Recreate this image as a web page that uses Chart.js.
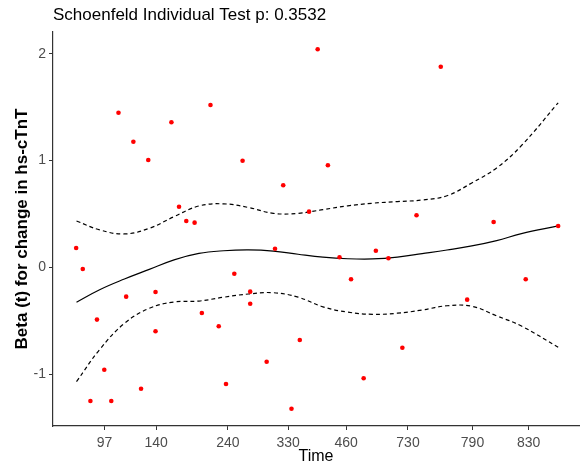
<!DOCTYPE html>
<html>
<head>
<meta charset="utf-8">
<script src="https://cdn.jsdelivr.net/npm/chart.js@4.4.1/dist/chart.umd.min.js"></script>
<style>
  html, body { margin: 0; padding: 0; background: #fff; }
  #wrap { width: 583px; height: 475px; }
</style>
</head>
<body>
<div id="wrap"><canvas id="zph" width="583" height="475"></canvas></div>
<script>
// x axis is the transformed time scale (0..100), labelled with real times
const tickTimes = [97, 140, 240, 330, 460, 730, 790, 830];
const tickPos = [9.81, 19.62, 33.26, 44.72, 55.72, 67.49, 79.75, 90.44];
const yTicks = [-1, 0, 1, 2];

// scaled Schoenfeld residuals
const residX = [4.40, 5.66, 7.11, 8.36, 9.75, 11.08, 12.45, 13.91, 15.28, 16.74,
  18.11, 19.49, 19.49, 22.51, 23.96, 25.34, 26.92, 28.30, 29.94, 31.51,
  32.89, 34.47, 36.04, 37.49, 37.49, 40.62, 42.21, 43.77, 45.34, 46.92,
  48.68, 50.32, 52.26, 54.47, 56.66, 59.06, 61.38, 63.77, 66.42, 69.11,
  73.72, 78.74, 83.77, 89.87, 96.04];
const residY = [0.181, -0.016, -1.252, -0.49, -0.959, -1.252, 1.447, -0.275, 1.176, -1.137,
  1.005, -0.231, -0.599, 1.358, 0.567, 0.434, 0.418, -0.428, 1.520, -0.552,
  -1.093, -0.06, 0.998, -0.228, -0.341, -0.884, 0.174, 0.768, -1.324, -0.681,
  0.521, 2.041, 0.955, 0.094, -0.112, -1.039, 0.155, 0.084, -0.753, 0.487,
  1.878, -0.303, 0.424, -0.112, 0.387];

// smoothed beta(t) with confidence band
const fitX = [4.47, 8.87, 13.58, 18.30, 23.02, 27.74, 32.45, 37.17, 41.89, 46.60,
  51.32, 56.04, 60.75, 65.47, 70.19, 74.91, 79.62, 84.34, 89.06, 96.04];
const fitY = [-0.327, -0.21, -0.11, -0.02, 0.07, 0.13, 0.155, 0.163, 0.152, 0.122,
  0.095, 0.08, 0.078, 0.095, 0.128, 0.162, 0.2, 0.25, 0.315, 0.387];
const upperY = [0.434, 0.35, 0.312, 0.365, 0.474, 0.574, 0.594, 0.56, 0.505, 0.505,
  0.54, 0.575, 0.60, 0.615, 0.63, 0.67, 0.79, 0.93, 1.14, 1.54];
const lowerY = [-1.071, -0.77, -0.525, -0.384, -0.325, -0.316, -0.28, -0.25, -0.238, -0.28,
  -0.37, -0.42, -0.44, -0.43, -0.40, -0.36, -0.365, -0.455, -0.55, -0.749];

const FONT = "'Liberation Sans', Arial, sans-serif";
const toPts = (xs, ys) => xs.map((x, i) => ({ x: x, y: ys[i] }));

const curve = (ys, dash) => ({
  type: 'line',
  data: toPts(fitX, ys),
  borderColor: '#000',
  borderWidth: 1.2,
  borderDash: dash,
  pointRadius: 0,
  tension: 0.4,
  fill: false
});

new Chart(document.getElementById('zph'), {
  type: 'scatter',
  data: {
    datasets: [
      {
        label: 'residuals',
        data: toPts(residX, residY),
        backgroundColor: '#ff0000',
        borderWidth: 0,
        pointRadius: 2.3
      },
      curve(fitY, []),
      curve(upperY, [4, 3]),
      curve(lowerY, [4, 3])
    ]
  },
  options: {
    responsive: false,
    animation: false,
    devicePixelRatio: 1,
    layout: { padding: 0 },
    plugins: {
      legend: { display: false },
      tooltip: { enabled: false },
      title: {
        display: true,
        text: 'Schoenfeld Individual Test p: 0.3532',
        align: 'start',
        fullSize: false,
        color: '#000',
        font: { family: FONT, size: 17, weight: 'normal' },
        padding: { top: 5, bottom: 6.6 }
      }
    },
    scales: {
      x: {
        type: 'linear',
        min: 0,
        max: 100,
        afterFit: s => { s.height = 49; },
        afterBuildTicks: s => { s.ticks = tickPos.map(v => ({ value: v })); },
        grid: { drawOnChartArea: false, drawTicks: true, tickLength: 4, color: '#333' },
        border: { display: true, color: '#333', width: 1.2 },
        ticks: {
          padding: 5,
          maxRotation: 0,
          autoSkip: false,
          color: '#4d4d4d',
          font: { family: FONT, size: 14 },
          callback: v => {
            const i = tickPos.indexOf(v);
            return i >= 0 ? String(tickTimes[i]) : '';
          }
        },
        title: {
          display: true,
          text: 'Time',
          color: '#000',
          font: { family: FONT, size: 16 },
          padding: { top: 0, bottom: 9 }
        }
      },
      y: {
        type: 'linear',
        min: -1.486,
        max: 2.203,
        afterFit: s => { s.width = 53; },
        afterBuildTicks: s => { s.ticks = yTicks.map(v => ({ value: v })); },
        grid: { drawOnChartArea: false, drawTicks: true, tickLength: 4, color: '#333' },
        border: { display: true, color: '#333', width: 1.2 },
        ticks: {
          padding: 3,
          color: '#4d4d4d',
          font: { family: FONT, size: 14 },
          callback: v => String(v)
        },
        title: {
          display: true,
          text: 'Beta (t) for change in hs-cTnT',
          color: '#000',
          font: { family: FONT, size: 17, weight: 'bold' },
          padding: { top: 12, bottom: 0 }
        }
      }
    }
  }
});
</script>
</body>
</html>
